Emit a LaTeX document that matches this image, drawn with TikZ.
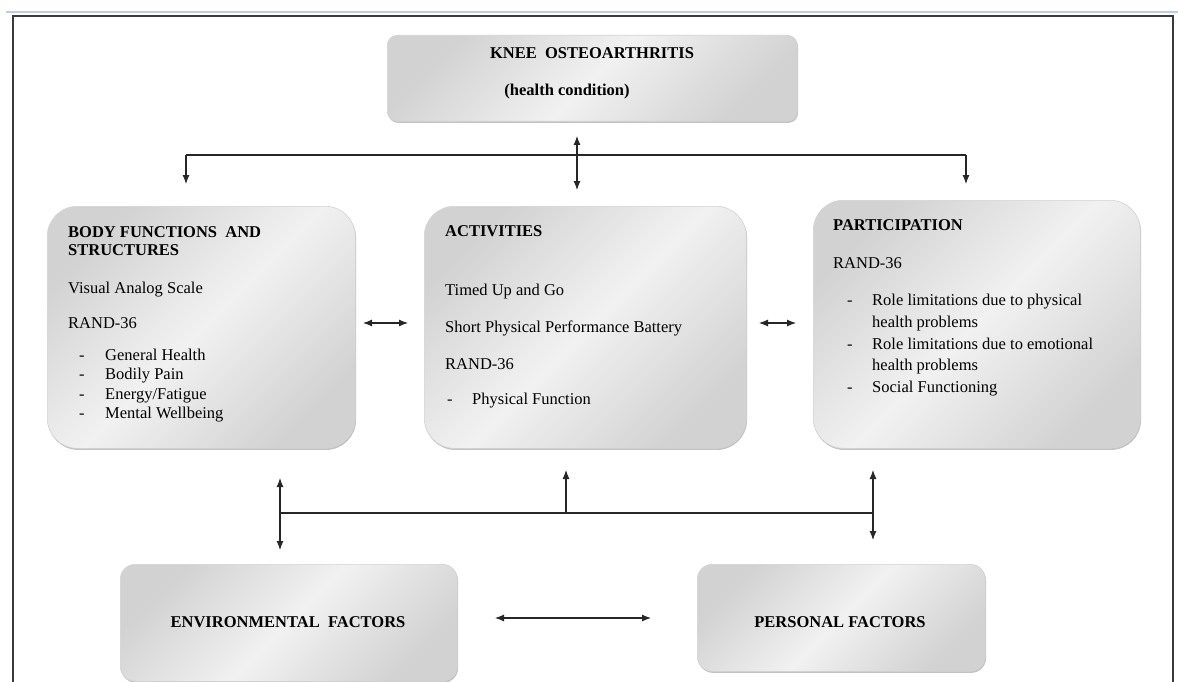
\documentclass[tikz,border=0pt]{standalone}
\usepackage{fontspec}
\setmainfont{Liberation Serif}
\usetikzlibrary{arrows.meta,shadows}
\definecolor{boxdark}{HTML}{D2D2D2}
\definecolor{boxlight}{HTML}{F1F1F1}
\definecolor{framecol}{HTML}{3A3A3A}
\definecolor{rulecol}{HTML}{B9CDE8}
\begin{document}
\begin{tikzpicture}[x=1pt,y=-1pt,
  box/.style={draw=gray!35, line width=0.6pt, rounded corners=#1,
    top color=boxdark, bottom color=boxdark, middle color=boxlight, shading angle=45,
    drop shadow={shadow xshift=0.8pt, shadow yshift=-1.6pt, opacity=0.4, fill=black!60},
    anchor=north west, inner sep=0pt},
  txt/.style={anchor=base west, inner sep=0pt, font=\fontsize{16.5}{20}\selectfont},
  ttl/.style={anchor=base west, inner sep=0pt, font=\fontsize{16.5}{20}\selectfont\bfseries},
  con/.style={line width=1.1pt, draw=black!85},
  arr/.style={con, -{Latex[length=9pt,width=7pt]}},
  darr/.style={con, {Latex[length=9pt,width=7pt]}-{Latex[length=9pt,width=7pt]}},
]
\useasboundingbox (0,0) rectangle (1178,682);
% page frame
\draw[rulecol, line width=1.2pt] (6,12) -- (1178,12);
\draw[framecol, line width=1.5pt] (13,700) -- (13,16) -- (1173,16) -- (1173,700);

% boxes
\node[box=10pt, minimum width=410pt, minimum height=86pt] (knee) at (387,35) {};
\node[box=30pt, minimum width=308pt, minimum height=242pt] (body) at (47,206) {};
\node[box=30pt, minimum width=322pt, minimum height=242pt] (act) at (424,206) {};
\node[box=30pt, minimum width=327pt, minimum height=248pt] (part) at (813,200) {};
\node[box=15pt, minimum width=337pt, minimum height=117pt] (env) at (120,564) {};
\node[box=15pt, minimum width=288pt, minimum height=107pt] (pers) at (697,564) {};

% texts
\node[ttl, anchor=base] (kt1) at (592,59) {KNEE\ \ OSTEOARTHRITIS};
\node[ttl, anchor=base] (kt2) at (567,96) {(health condition)};

\node[ttl] (bt1) at (68,237) {BODY FUNCTIONS\ \ AND};
\node[ttl] (bt2) at (68,255) {STRUCTURES};
\node[txt] (bt3) at (68,293) {Visual Analog Scale};
\node[txt] (bt4) at (68,328) {RAND-36};
\node[txt] (bd1) at (79,360) {-};
\node[txt] (bd2) at (79,379) {-};
\node[txt] (bd3) at (79,399) {-};
\node[txt] (bd4) at (79,418) {-};
\node[txt] (bl1) at (105,360) {General Health};
\node[txt] (bl2) at (105,379) {Bodily Pain};
\node[txt] (bl3) at (105,399) {Energy/Fatigue};
\node[txt] (bl4) at (105,418) {Mental Wellbeing};

\node[ttl] (at1) at (445,236) {ACTIVITIES};
\node[txt] (at2) at (445,295) {Timed Up and Go};
\node[txt] (at3) at (445,332) {Short Physical Performance Battery};
\node[txt] (at4) at (445,369) {RAND-36};
\node[txt] (ad1) at (447,404) {-};
\node[txt] (al1) at (472,404) {Physical Function};

\node[ttl] (pt1) at (833,230) {PARTICIPATION};
\node[txt] (pt2) at (833,268) {RAND-36};
\node[txt] (pd1) at (847,305) {-};
\node[txt] (pd2) at (847,349) {-};
\node[txt] (pd3) at (847,392) {-};
\node[txt] (pl1) at (872,305) {Role limitations due to physical};
\node[txt] (pl2) at (872,327) {health problems};
\node[txt] (pl3) at (872,349) {Role limitations due to emotional};
\node[txt] (pl4) at (872,370) {health problems};
\node[txt] (pl5) at (872,392) {Social Functioning};

\node[ttl, anchor=base] (et1) at (288,627) {ENVIRONMENTAL\ \ FACTORS};
\node[ttl, anchor=base] (pe1) at (840,627) {PERSONAL FACTORS};

% connector points
\coordinate (busL) at (186,155);
\coordinate (busR) at (966,155);
\coordinate (bodyIn) at (186,184);
\coordinate (partIn) at (966,184);
\coordinate (kneeEnd) at (577,136);
\coordinate (actEnd) at (577,190);
\coordinate (baR) at (363,323);
\coordinate (baL) at (408,323);
\coordinate (apR) at (759,323);
\coordinate (apL) at (796,323);
\coordinate (lbTop) at (280,478);
\coordinate (lbBot) at (280,550);
\coordinate (busB1) at (280,513);
\coordinate (busB2) at (873,513);
\coordinate (upBase) at (566,513);
\coordinate (upTop) at (566,470);
\coordinate (rbTop) at (873,470);
\coordinate (rbBot) at (873,540);
\coordinate (epL) at (495,618);
\coordinate (epR) at (651,618);

% connectors
\draw[con] (busL) -- (busR);
\draw[arr] (busL) -- (bodyIn);
\draw[arr] (busR) -- (partIn);
\draw[darr] (kneeEnd) -- (actEnd);
\draw[darr] (baR) -- (baL);
\draw[darr] (apR) -- (apL);
\draw[darr] (lbTop) -- (lbBot);
\draw[con] (busB1) -- (busB2);
\draw[arr] (upBase) -- (upTop);
\draw[darr] (rbTop) -- (rbBot);
\draw[darr] (epL) -- (epR);
\end{tikzpicture}
\end{document}
